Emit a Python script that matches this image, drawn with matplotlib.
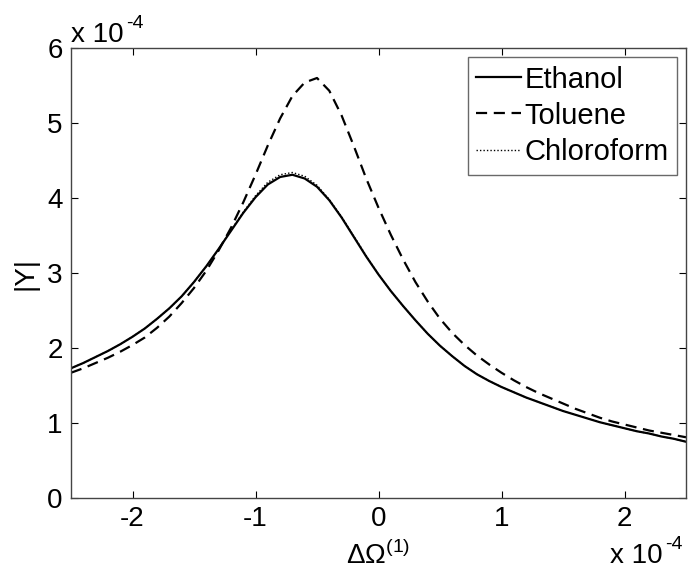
import matplotlib
matplotlib.use("Agg")
import matplotlib.pyplot as plt
from matplotlib.ticker import FuncFormatter

plt.rcParams['font.family'] = ['Liberation Sans', 'DejaVu Sans']
plt.rcParams['mathtext.fontset'] = 'custom'
plt.rcParams['mathtext.rm'] = 'Liberation Sans'

scale = 1e-4
x_vals = [-2.5, -2.4, -2.3, -2.2, -2.1, -2.0, -1.9, -1.8, -1.7, -1.6, -1.5, -1.4, -1.3, -1.2, -1.1,
          -1.0, -0.9, -0.8, -0.7, -0.6, -0.5, -0.4, -0.3, -0.2, -0.1, 0.0, 0.1, 0.2, 0.3, 0.4,
          0.5, 0.6, 0.7, 0.8, 0.9, 1.0, 1.1, 1.2, 1.3, 1.4, 1.5, 1.6, 1.7, 1.8, 1.9, 2.0,
          2.1, 2.2, 2.3, 2.4, 2.5]
ethanol = [1.73, 1.80, 1.88, 1.96, 2.05, 2.15, 2.26, 2.39, 2.53, 2.69, 2.88, 3.09, 3.32, 3.56, 3.80,
           4.01, 4.18, 4.28, 4.31, 4.26, 4.15, 3.97, 3.74, 3.48, 3.22, 2.98, 2.76, 2.56, 2.37, 2.19,
           2.03, 1.89, 1.76, 1.65, 1.56, 1.48, 1.41, 1.34, 1.28, 1.22, 1.16, 1.11, 1.06, 1.01, 0.97, 0.93,
           0.89, 0.86, 0.82, 0.79, 0.75]
toluene = [1.67, 1.73, 1.80, 1.87, 1.95, 2.04, 2.14, 2.27, 2.42, 2.60, 2.80, 3.03, 3.30, 3.60, 3.94,
           4.31, 4.70, 5.06, 5.36, 5.54, 5.60, 5.43, 5.10, 4.69, 4.26, 3.87, 3.51, 3.18, 2.88, 2.62,
           2.39, 2.20, 2.04, 1.90, 1.78, 1.67, 1.57, 1.48, 1.40, 1.33, 1.26, 1.19, 1.13, 1.07, 1.02, 0.98,
           0.94, 0.90, 0.87, 0.84, 0.81]
chloroform = [1.73, 1.80, 1.88, 1.96, 2.05, 2.15, 2.26, 2.39, 2.53, 2.69, 2.88, 3.09, 3.32, 3.57, 3.81,
              4.03, 4.21, 4.31, 4.34, 4.29, 4.17, 3.98, 3.75, 3.49, 3.23, 2.98, 2.76, 2.56, 2.37, 2.19,
              2.03, 1.89, 1.76, 1.65, 1.56, 1.48, 1.41, 1.34, 1.28, 1.22, 1.16, 1.11, 1.06, 1.01, 0.97, 0.93,
              0.89, 0.86, 0.82, 0.79, 0.75]
x_ticks = [-2, -1, 0, 1, 2]
y_ticks = [0, 1, 2, 3, 4, 5, 6]

fig = plt.figure(figsize=(6.91, 5.86), dpi=100)
ax = fig.add_axes([71/691, 88/586, 615/691, 450/586])

xs = [v * scale for v in x_vals]
ax.plot(xs, [v * scale for v in ethanol], color='black', lw=1.6, ls='-', label='Ethanol')
ax.plot(xs, [v * scale for v in toluene], color='black', lw=1.6, ls=(0, (5, 3)), label='Toluene')
ax.plot(xs, [v * scale for v in chloroform], color='black', lw=1.0, ls=(0, (1, 1.5)), label='Chloroform')

ax.set_xlim(-2.5 * scale, 2.5 * scale)
ax.set_ylim(0, 6 * scale)
ax.set_xticks([t * scale for t in x_ticks])
ax.set_yticks([t * scale for t in y_ticks])
fmt = FuncFormatter(lambda v, p: '%d' % round(v / scale))
ax.xaxis.set_major_formatter(fmt)
ax.yaxis.set_major_formatter(fmt)
ax.tick_params(direction='in', length=5, width=0.8, labelsize=20, colors='black',
               top=True, right=True, pad=6)
for s in ax.spines.values():
    s.set_color('#444444')
    s.set_linewidth(1.0)

ax.set_xlabel(r'$\Delta\Omega^{(1)}$', fontsize=20, labelpad=6)
ax.set_ylabel('|Y|', fontsize=20, labelpad=6)

# exponent annotations (MATLAB style)
fig.text(71/691, 1 - 42/586, 'x 10', fontsize=20, ha='left', va='baseline')
fig.text(126/691, 1 - 28/586, '-4', fontsize=14, ha='left', va='baseline')
fig.text(610/691, 1 - 563/586, 'x 10', fontsize=20, ha='left', va='baseline')
fig.text(665/691, 1 - 549/586, '-4', fontsize=14, ha='left', va='baseline')

leg = ax.legend(loc='upper right', fontsize=21, frameon=True, fancybox=False,
                edgecolor='#444444', handlelength=1.55, handletextpad=0.1,
                borderpad=0.3, labelspacing=0.28, borderaxespad=0.3)
leg.get_frame().set_linewidth(1.0)

fig.savefig('out.png', dpi=100)
